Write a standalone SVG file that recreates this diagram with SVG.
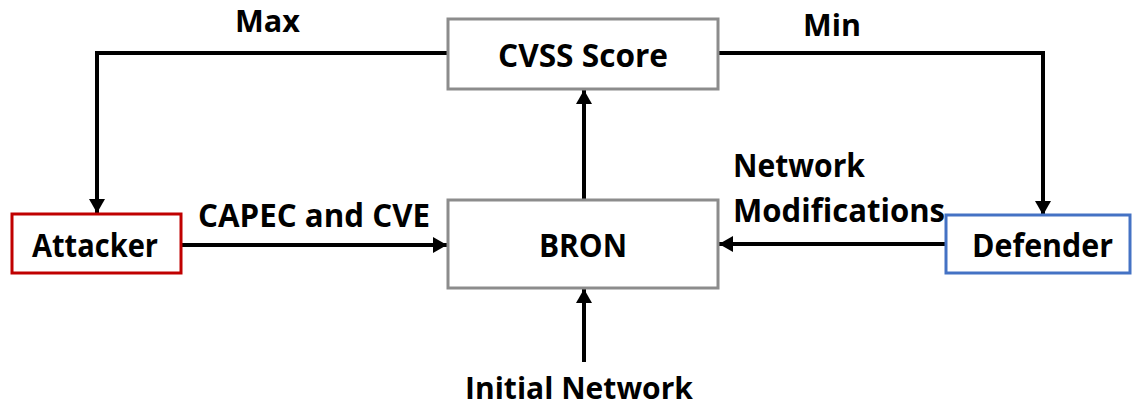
<svg xmlns="http://www.w3.org/2000/svg" width="1133" height="408" viewBox="0 0 1133 408">
<defs>
<style>
.box{fill:#fff;stroke-width:3}
.gray{stroke:#8c8c8c}
.red{stroke:#c00000}
.blue{stroke:#4472c4}
.lbl{font-family:"Open Sans","Noto Sans",sans-serif;font-weight:bold;font-size:32px;fill:#000}
.sm{font-size:31px}
.xs{font-size:30px}
.wire{fill:none;stroke:#000;stroke-width:4}
</style>
<marker id="ah" viewBox="0 0 14 16" refX="14" refY="8" markerWidth="14" markerHeight="16" markerUnits="userSpaceOnUse" orient="auto">
<path d="M0,0 L14,8 L0,16 Z" fill="#000"/>
</marker>
</defs>
<rect width="1133" height="408" fill="#fff"/>
<g id="connectors">
<path class="wire" d="M448,53 H97 V213" marker-end="url(#ah)"/>
<path class="wire" d="M718,53 H1043 V215" marker-end="url(#ah)"/>
<path class="wire" d="M584,200 V90" marker-end="url(#ah)"/>
<path class="wire" d="M181,245 H447" marker-end="url(#ah)"/>
<path class="wire" d="M946,244 H719" marker-end="url(#ah)"/>
<path class="wire" d="M584,362 V289" marker-end="url(#ah)"/>
<text class="lbl sm" x="235" y="32" textLength="65" lengthAdjust="spacingAndGlyphs">Max</text>
<text class="lbl sm" x="803" y="36" textLength="58" lengthAdjust="spacingAndGlyphs">Min</text>
<text class="lbl" x="198" y="227" textLength="232" lengthAdjust="spacingAndGlyphs">CAPEC and CVE</text>
<text class="lbl" x="733" y="177" textLength="132" lengthAdjust="spacingAndGlyphs">Network</text>
<text class="lbl" x="733" y="222" textLength="212" lengthAdjust="spacingAndGlyphs">Modifications</text>
<text class="lbl xs" x="465" y="399" textLength="228" lengthAdjust="spacingAndGlyphs">Initial Network</text>
</g>
<g id="cvss">
<rect class="box gray" x="448" y="19" width="270" height="70"/>
<text class="lbl" x="498" y="67" textLength="170" lengthAdjust="spacingAndGlyphs">CVSS Score</text>
</g>
<g id="bron">
<rect class="box gray" x="448" y="200" width="270" height="88"/>
<text class="lbl" x="539" y="257" textLength="88" lengthAdjust="spacingAndGlyphs">BRON</text>
</g>
<g id="attacker">
<rect class="box red" x="12" y="214" width="169" height="59"/>
<text class="lbl" x="32" y="257" textLength="126" lengthAdjust="spacingAndGlyphs">Attacker</text>
</g>
<g id="defender">
<rect class="box blue" x="946" y="215" width="184" height="58"/>
<text class="lbl" x="972" y="257" textLength="141" lengthAdjust="spacingAndGlyphs">Defender</text>
</g>
</svg>
